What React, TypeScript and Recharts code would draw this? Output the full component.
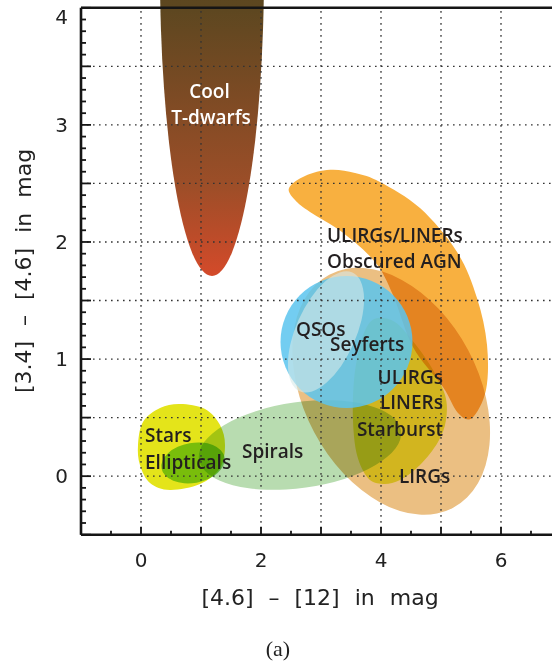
import React from 'react';
import { ComposedChart, XAxis, YAxis, ReferenceArea, ReferenceLine, Scatter } from 'recharts';

// x = [4.6] - [12], y = [3.4] - [4.6] (mag)
const xTicks = [-1, -0.5, 0, 0.5, 1, 1.5, 2, 2.5, 3, 3.5, 4, 4.5, 5, 5.5, 6, 6.5, 7];
const xTickLabels = [0, 2, 4, 6];
const yTicks = [
  -0.5, -0.4, -0.3, -0.2, -0.1, 0, 0.1, 0.2, 0.3, 0.4, 0.5, 0.6, 0.7, 0.8, 0.9, 1,
  1.1, 1.2, 1.3, 1.4, 1.5, 1.6, 1.7, 1.8, 1.9, 2, 2.1, 2.2, 2.3, 2.4, 2.5, 2.6, 2.7,
  2.8, 2.9, 3, 3.1, 3.2, 3.3, 3.4, 3.5, 3.6, 3.7, 3.8, 3.9, 4,
];
const yTickLabels = [0, 1, 2, 3, 4];
const xGrid = [0, 1, 2, 3, 4, 5, 6];
const yGrid = [0, 0.5, 1, 1.5, 2, 2.5, 3, 3.5];

// elliptical regions: centre, semi axes (data units, before rotation), tilt in degrees
const ellipseRegions = [
  { name: 'tdwarfs', cx: 1.183, cy: 4.323, rx: 0.867, ry: 2.613, angle: 0 },
  { name: 'lirgs', cx: 4.17, cy: 0.725, rx: 2.2, ry: 0.745, angle: 62 },
  { name: 'spirals', cx: 2.65, cy: 0.266, rx: 1.7, ry: 0.367, angle: -8 },
  { name: 'ellipticals', cx: 0.867, cy: 0.113, rx: 0.533, ry: 0.171, angle: -10 },
  { name: 'qsos', cx: 3.425, cy: 1.146, rx: 1.1, ry: 0.564, angle: 0 },
  { name: 'seyferts', cx: 3.083, cy: 1.232, rx: 1.083, ry: 0.256, angle: -66 },
];

// free-form regions, outline in data units
const ulirgsOutline = [
  [2.467, 2.462], [2.733, 2.564], [3.15, 2.616], [3.567, 2.59], [3.983, 2.513],
  [4.65, 2.29], [5.267, 1.915], [5.6, 1.522], [5.767, 1.121], [5.75, 0.736],
  [5.517, 0.497], [5.283, 0.54], [5.033, 0.762], [4.533, 1.103], [4.2, 1.547],
  [3.9, 1.829], [3.35, 2.085], [2.817, 2.256], [2.567, 2.358],
];
const starburstOutline = [
  [3.95, 1.351], [4.233, 1.317], [4.517, 1.163], [4.817, 0.95], [5.067, 0.694],
  [5.083, 0.48], [4.95, 0.292], [4.65, 0.096], [4.317, -0.032], [4.033, -0.066],
  [3.783, -0.015], [3.6, 0.181], [3.533, 0.48], [3.55, 0.822], [3.65, 1.121], [3.783, 1.292],
];
const starsOutline = [
  [-0.05, 0.267], [0.033, 0.463], [0.317, 0.582], [0.65, 0.617], [1.067, 0.574],
  [1.317, 0.437], [1.4, 0.267], [1.317, 0.07], [0.983, -0.067], [0.483, -0.118],
  [0.15, -0.058], [-0.017, 0.096],
];
const outlineRegions = [
  { name: 'ulirgs', points: ulirgsOutline },
  { name: 'starburst', points: starburstOutline },
  { name: 'stars', points: starsOutline },
];

const labels = [
  { text: 'Cool', x: 1.142, y: 3.229, anchor: 'middle' },
  { text: 'T-dwarfs', x: 1.167, y: 3.007, anchor: 'middle' },
  { text: 'ULIRGs/LINERs', x: 3.1, y: 2.0, anchor: 'start' },
  { text: 'Obscured AGN', x: 3.1, y: 1.778, anchor: 'start' },
  { text: 'QSOs', x: 2.583, y: 1.2, anchor: 'start' },
  { text: 'Seyferts', x: 3.15, y: 1.066, anchor: 'start' },
  { text: 'ULIRGs', x: 5.033, y: 0.787, anchor: 'end' },
  { text: 'LINERs', x: 5.033, y: 0.574, anchor: 'end' },
  { text: 'Starburst', x: 5.033, y: 0.343, anchor: 'end' },
  { text: 'LIRGs', x: 4.3, y: -0.058, anchor: 'start' },
  { text: 'Stars', x: 0.067, y: 0.292, anchor: 'start' },
  { text: 'Ellipticals', x: 0.067, y: 0.062, anchor: 'start' },
  { text: 'Spirals', x: 1.683, y: 0.155, anchor: 'start' },
];

const drawOrder = ['tdwarfs', 'ulirgs', 'lirgs', 'starburst', 'stars', 'spirals', 'ellipticals', 'qsos', 'seyferts'];

const regionStyle: Record<string, { fill: string; opacity?: number; blend?: string }> = {
  tdwarfs: { fill: 'url(#tdwarfGrad)' },
  ulirgs: { fill: '#f8b040' },
  lirgs: { fill: '#ebbf82', blend: 'multiply' },
  starburst: { fill: '#e4f23c', blend: 'multiply' },
  stars: { fill: '#e4e41a' },
  spirals: { fill: '#b8dcb0', blend: 'multiply' },
  ellipticals: { fill: '#87d464', blend: 'multiply' },
  qsos: { fill: '#5bc4ee', opacity: 0.85 },
  seyferts: { fill: '#d7e9e8', opacity: 0.6 },
};

const whiteLabels = ['Cool', 'T-dwarfs'];
const AXIS = '#151515';
const TICK_FONT = '"DejaVu Sans", sans-serif';

function smoothPath(pts: number[][]) {
  const n = pts.length;
  let d = `M${pts[0][0]},${pts[0][1]}`;
  for (let i = 0; i < n; i++) {
    const p0 = pts[(i - 1 + n) % n];
    const p1 = pts[i];
    const p2 = pts[(i + 1) % n];
    const p3 = pts[(i + 2) % n];
    const c1x = p1[0] + (p2[0] - p0[0]) / 6;
    const c1y = p1[1] + (p2[1] - p0[1]) / 6;
    const c2x = p2[0] - (p3[0] - p1[0]) / 6;
    const c2y = p2[1] - (p3[1] - p1[1]) / 6;
    d += ` C${c1x},${c1y} ${c2x},${c2y} ${p2[0]},${p2[1]}`;
  }
  return d + 'Z';
}

const RegionShape = (props: any) => {
  const { x, y, width, height, region } = props;
  const st = regionStyle[region.name];
  const style: any = { mixBlendMode: st.blend || 'normal' };
  let body;
  if (region.points) {
    const xs = region.points.map((p: number[]) => p[0]);
    const ys = region.points.map((p: number[]) => p[1]);
    const minX = Math.min(...xs), maxX = Math.max(...xs);
    const minY = Math.min(...ys), maxY = Math.max(...ys);
    const px = region.points.map((p: number[]) => [
      x + ((p[0] - minX) / (maxX - minX)) * width,
      y + ((maxY - p[1]) / (maxY - minY)) * height,
    ]);
    body = <path d={smoothPath(px)} fill={st.fill} fillOpacity={st.opacity ?? 1} style={style} />;
  } else {
    const cx = x + width / 2;
    const cy = y + height / 2;
    body = (
      <ellipse
        cx={cx}
        cy={cy}
        rx={width / 2}
        ry={height / 2}
        transform={`rotate(${region.angle} ${cx} ${cy})`}
        fill={st.fill}
        fillOpacity={st.opacity ?? 1}
        style={style}
      />
    );
  }
  return (
    <g>
      {region.name === 'tdwarfs' && (
        <defs>
          <linearGradient id="tdwarfGrad" x1="0" y1="0" x2="0" y2="1">
            <stop offset="0" stopColor="#4e441a" />
            <stop offset="0.562" stopColor="#5d4720" />
            <stop offset="0.85" stopColor="#9c4e28" />
            <stop offset="1" stopColor="#d44a2a" />
          </linearGradient>
        </defs>
      )}
      {body}
    </g>
  );
};

const LabelShape = (props: any) => {
  const { cx, cy, payload } = props;
  return (
    <text
      x={cx}
      y={cy}
      textAnchor={payload.anchor}
      fontFamily='"Open Sans", sans-serif'
      fontWeight={600}
      fontSize={19}
      fill={whiteLabels.includes(payload.text) ? '#ffffff' : '#231f20'}
    >
      {payload.text}
    </text>
  );
};

const BottomTick = (props: any) => {
  const { x, y, payload } = props;
  const v = payload.value;
  const major = Math.abs(v - Math.round(v)) < 1e-6;
  const len = major ? 8 : 4;
  return (
    <g>
      <line x1={x} x2={x} y1={y} y2={y - len} stroke={AXIS} strokeWidth={1.8} />
      {xTickLabels.includes(v) && (
        <text x={x} y={y + 32} textAnchor="middle" fontFamily={TICK_FONT} fontSize={20} fill="#222">
          {v}
        </text>
      )}
    </g>
  );
};

const TopTick = (props: any) => {
  const { x, y, payload } = props;
  const v = payload.value;
  const major = Math.abs(v - Math.round(v)) < 1e-6;
  const len = major ? 6 : 4;
  return <line x1={x} x2={x} y1={y} y2={y + len} stroke={AXIS} strokeWidth={1.8} />;
};

const LeftTick = (props: any) => {
  const { x, y, payload } = props;
  const v = payload.value;
  const major = Math.abs(v * 2 - Math.round(v * 2)) < 1e-6;
  const len = major ? 10 : 5;
  const labelled = yTickLabels.some((t) => Math.abs(t - v) < 1e-6);
  const shift = Math.abs(v - 4) < 1e-6 ? 8.7 : 0;
  return (
    <g>
      <line x1={x} x2={x + len} y1={y} y2={y} stroke={AXIS} strokeWidth={1.8} />
      {labelled && (
        <text x={x - 13} y={y + shift} dy="0.36em" textAnchor="end" fontFamily={TICK_FONT} fontSize={20} fill="#222">
          {Math.round(v)}
        </text>
      )}
    </g>
  );
};

const WiseColorChart = () => {
  const regions = drawOrder.map(
    (name) => ellipseRegions.find((r) => r.name === name) || outlineRegions.find((r) => r.name === name)
  ) as any[];

  return (
    <ComposedChart width={600} height={664} margin={{ top: 0, right: 39, bottom: 99.3, left: 21 }}>
      <XAxis
        dataKey="x"
        type="number"
        domain={[-1, 7]}
        allowDataOverflow
        ticks={xTicks}
        interval={0}
        height={30}
        tickSize={0}
        tickMargin={0}
        tickLine={false}
        tick={<BottomTick />}
        axisLine={{ stroke: AXIS, strokeWidth: 2.6 }}
      />
      <XAxis
        xAxisId="top"
        orientation="top"
        type="number"
        domain={[-1, 7]}
        allowDataOverflow
        ticks={xTicks}
        interval={0}
        height={7.8}
        tickSize={0}
        tickMargin={0}
        tickLine={false}
        tick={<TopTick />}
        axisLine={{ stroke: AXIS, strokeWidth: 2.6 }}
      />
      <YAxis
        dataKey="y"
        type="number"
        domain={[-0.5, 4]}
        allowDataOverflow
        ticks={yTicks}
        interval={0}
        width={60}
        tickSize={0}
        tickMargin={0}
        tickLine={false}
        tick={<LeftTick />}
        axisLine={{ stroke: AXIS, strokeWidth: 2.6 }}
      />

      {regions.map((r) => {
        let x1, x2, y1, y2;
        if (r.points) {
          const xs = r.points.map((p: number[]) => p[0]);
          const ys = r.points.map((p: number[]) => p[1]);
          x1 = Math.min(...xs);
          x2 = Math.max(...xs);
          y1 = Math.min(...ys);
          y2 = Math.max(...ys);
        } else {
          x1 = r.cx - r.rx;
          x2 = r.cx + r.rx;
          y1 = r.cy - r.ry;
          y2 = r.cy + r.ry;
        }
        return (
          <ReferenceArea
            key={r.name}
            x1={x1}
            x2={x2}
            y1={y1}
            y2={y2}
            ifOverflow={r.name === 'tdwarfs' ? 'hidden' : 'visible'}
            shape={(p: any) => <RegionShape {...p} region={r} />}
          />
        );
      })}

      {xGrid.map((v) => (
        <ReferenceLine key={'gx' + v} x={v} stroke="#333" strokeWidth={1.3} strokeDasharray="1.6 4.4" />
      ))}
      {yGrid.map((v) => (
        <ReferenceLine key={'gy' + v} y={v} stroke="#333" strokeWidth={1.3} strokeDasharray="1.6 4.4" />
      ))}

      <Scatter data={labels} dataKey="y" isAnimationActive={false} shape={LabelShape} />

      <text
        x={320}
        y={605}
        textAnchor="middle"
        fontFamily={TICK_FONT}
        fontSize={22}
        wordSpacing={8}
        fill="#222"
      >
        [4.6] – [12] in mag
      </text>
      <text
        x={31}
        y={271}
        textAnchor="middle"
        fontFamily={TICK_FONT}
        fontSize={22}
        wordSpacing={8}
        fill="#222"
        transform="rotate(-90 31 271)"
      >
        [3.4] – [4.6] in mag
      </text>
      <text x={278} y={656} textAnchor="middle" fontFamily='"Liberation Serif", serif' fontSize={22} fill="#222">
        (a)
      </text>
    </ComposedChart>
  );
};

export default function App() {
  return (
    <div
      style={{
        position: 'absolute',
        left: 0,
        top: 0,
        width: 552,
        height: 664,
        overflow: 'hidden',
        background: '#fff',
      }}
    >
      <WiseColorChart />
    </div>
  );
}
